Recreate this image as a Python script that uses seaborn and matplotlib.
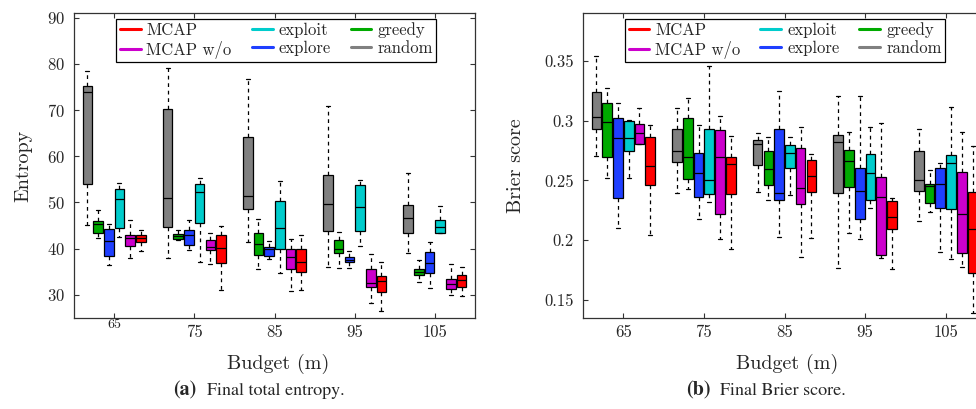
import numpy as np
import pandas as pd
import matplotlib
matplotlib.use("Agg")
import matplotlib.pyplot as plt
import matplotlib.transforms as mtransforms
from matplotlib.lines import Line2D
import seaborn as sns

# Budgets (m) on the x axis
budgets = ["65", "75", "85", "95", "105"]

# Methods in the order the boxes are drawn inside each budget group
methods = ["random", "greedy", "explore", "exploit", "MCAP w/o", "MCAP"]
legend_order = ["MCAP", "MCAP w/o", "exploit", "explore", "greedy", "random"]
colors = {
    "random": "#808080",
    "greedy": "#00aa00",
    "explore": "#1f3fff",
    "exploit": "#00cccc",
    "MCAP w/o": "#cc00cc",
    "MCAP": "#ff0000",
}

# Per-budget box summaries: [min, q1, median, q3, max]
# Final total entropy
ent_random = [[45.1, 54.0, 73.9, 75.3, 78.5], [37.9, 44.8, 51.0, 70.3, 79.0],
              [41.4, 48.6, 51.5, 64.2, 76.7], [36.1, 43.8, 49.7, 56.0, 70.9],
              [39.0, 43.3, 46.6, 49.5, 56.4]]
ent_greedy = [[42.4, 43.4, 45.3, 45.9, 48.3], [41.9, 42.2, 42.7, 43.1, 44.0],
              [35.5, 38.7, 41.1, 43.3, 46.5], [35.9, 39.0, 40.0, 41.8, 43.7],
              [32.7, 34.3, 35.0, 35.5, 37.5]]
ent_explore = [[36.55, 38.35, 41.7, 44.3, 45.3], [39.7, 40.9, 42.9, 44.0, 46.1],
               [37.8, 38.35, 40.0, 40.4, 41.7], [35.9, 37.1, 37.6, 38.1, 39.6],
               [31.5, 34.8, 36.9, 39.2, 41.4]]
ent_exploit = [[42.6, 44.4, 50.8, 53.0, 54.2], [37.1, 45.5, 52.2, 54.0, 55.3],
               [34.8, 39.9, 44.5, 50.4, 54.6], [40.6, 43.75, 49.1, 53.7, 54.9],
               [43.5, 43.5, 44.8, 46.3, 49.3]]
ent_mcap_wo = [[37.9, 40.5, 42.3, 43.0, 46.2], [36.7, 39.7, 40.4, 41.8, 43.5],
               [30.9, 35.5, 38.2, 39.9, 42.0], [28.3, 31.7, 32.6, 35.5, 38.9],
               [30.0, 31.2, 32.4, 33.5, 36.6]]
ent_mcap = [[39.4, 41.4, 42.3, 43.0, 44.0], [31.0, 36.8, 40.2, 42.9, 45.0],
            [31.1, 34.9, 37.1, 39.9, 43.0], [26.6, 30.7, 33.0, 34.0, 37.2],
            [29.7, 31.8, 33.2, 34.2, 36.0]]

# Final Brier score
bri_random = [[0.2705, 0.2929, 0.3032, 0.3238, 0.3537], [0.2398, 0.2652, 0.2744, 0.2934, 0.3104],
              [0.2401, 0.2627, 0.2806, 0.2839, 0.2900], [0.1765, 0.2393, 0.2820, 0.2881, 0.3210],
              [0.2158, 0.2410, 0.2502, 0.2744, 0.2931]]
bri_greedy = [[0.2518, 0.2694, 0.2987, 0.3146, 0.3269], [0.2432, 0.2510, 0.2697, 0.3020, 0.3191],
              [0.2337, 0.2460, 0.2594, 0.2744, 0.2862], [0.2064, 0.2449, 0.2666, 0.2758, 0.2906],
              [0.2237, 0.2315, 0.2457, 0.2468, 0.2588]]
bri_explore = [[0.2100, 0.2351, 0.2856, 0.3026, 0.3146], [0.2178, 0.2359, 0.2560, 0.2728, 0.2962],
               [0.2027, 0.2334, 0.2396, 0.2926, 0.3250], [0.2008, 0.2175, 0.2415, 0.2608, 0.3210],
               [0.1899, 0.2267, 0.2471, 0.2602, 0.2644]]
bri_exploit = [[0.2524, 0.2750, 0.2856, 0.2998, 0.3007], [0.2323, 0.2387, 0.2502, 0.2934, 0.3461],
               [0.2376, 0.2608, 0.2728, 0.2795, 0.2862], [0.2267, 0.2334, 0.2566, 0.2722, 0.2948],
               [0.1846, 0.2259, 0.2644, 0.2714, 0.3118]]
bri_mcap_wo = [[0.2806, 0.2806, 0.2895, 0.2968, 0.3104], [0.2013, 0.2223, 0.2697, 0.2923, 0.3040],
               [0.1857, 0.2301, 0.2435, 0.2770, 0.2951], [0.1849, 0.1877, 0.2365, 0.2530, 0.2981],
               [0.1779, 0.1896, 0.2217, 0.2574, 0.2903]]
bri_mcap = [[0.2041, 0.2460, 0.2619, 0.2864, 0.2962], [0.1927, 0.2384, 0.2635, 0.2697, 0.2875],
            [0.2019, 0.2407, 0.2538, 0.2675, 0.2719], [0.1762, 0.2094, 0.2192, 0.2331, 0.2357],
            [0.1390, 0.1723, 0.2094, 0.2404, 0.2789]]

entropy = {"random": ent_random, "greedy": ent_greedy, "explore": ent_explore,
           "exploit": ent_exploit, "MCAP w/o": ent_mcap_wo, "MCAP": ent_mcap}
brier = {"random": bri_random, "greedy": bri_greedy, "explore": bri_explore,
         "exploit": bri_exploit, "MCAP w/o": bri_mcap_wo, "MCAP": bri_mcap}


def to_long(table):
    rows = []
    for m in methods:
        for b, stats in zip(budgets, table[m]):
            for v in stats:
                rows.append({"budget": b, "method": m, "value": v})
    return pd.DataFrame(rows)


sns.set_style("ticks")
plt.rcParams["font.family"] = ["cmr10"]
plt.rcParams["mathtext.fontset"] = "cm"
plt.rcParams["axes.formatter.use_mathtext"] = True
plt.rcParams["axes.unicode_minus"] = False

fig = plt.figure(figsize=(9.76, 4.09), dpi=100)
ax1 = fig.add_axes([74 / 976, 1 - 318 / 409, 401 / 976, 305 / 409])
ax2 = fig.add_axes([583 / 976, 1 - 318 / 409, 403 / 976, 305 / 409])

box_kw = dict(
    x="budget", y="value", hue="method", order=budgets, hue_order=methods,
    palette=colors, saturation=1, width=0.8, gap=0.1, whis=(0, 100),
    linecolor="black", linewidth=0.9, fliersize=0, legend=False,
    whiskerprops=dict(linestyle=(0, (3, 3)), linewidth=0.9),
    capprops=dict(linewidth=0.9), capwidths=0.05,
)
sns.boxplot(data=to_long(entropy), ax=ax1, **box_kw)
sns.boxplot(data=to_long(brier), ax=ax2, **box_kw)

spine_color = "#333333"
for ax in (ax1, ax2):
    ax.set_xlim(-0.5, 4.5)
    ax.set_xlabel("Budget (m)", fontsize=14.5)
    ax.tick_params(direction="in", top=True, right=True, length=3.5,
                   width=0.8, color=spine_color, labelsize=12)
    ax.tick_params(axis="x", pad=5)
    ax.tick_params(axis="y", pad=6.5)
    for s in ax.spines.values():
        s.set_color(spine_color)
        s.set_linewidth(0.9)

ax1.set_ylim(25, 91)
ax1.set_yticks([30, 40, 50, 60, 70, 80, 90])
ax1.set_ylabel("Entropy", fontsize=14.5)
ax2.set_ylim(0.135, 0.39)
ax2.set_yticks([0.15, 0.2, 0.25, 0.3, 0.35])
ax2.set_yticklabels(["0.15", "0.2", "0.25", "0.3", "0.35"])
ax2.set_ylabel("Brier score", fontsize=14.5)

ax1.yaxis.set_label_coords(-0.105, 0.5)
ax2.yaxis.set_label_coords(-0.144, 0.5)
ax1.xaxis.set_label_coords(0.509, -0.118)
ax2.xaxis.set_label_coords(0.506, -0.118)

handles = [Line2D([], [], color=colors[m], lw=2.2) for m in legend_order]
for ax, (xr, top) in ((ax1, (0.903, 0.98)), (ax2, (0.898, 0.98))):
    leg = ax.legend(handles, legend_order, ncol=3, loc="upper right",
                    bbox_to_anchor=(xr, top), borderaxespad=0, fontsize=12,
                    frameon=True, fancybox=False, framealpha=1,
                    edgecolor="black", handlelength=1.25, handletextpad=0.35,
                    columnspacing=1.2, labelspacing=0.15, borderpad=0.2)
    leg.get_frame().set_linewidth(0.9)

# First budget label on the entropy panel is set smaller and raised
lab = ax1.xaxis.get_major_ticks()[0].label1
lab.set_fontsize(10)
lab.set_transform(lab.get_transform() +
                  mtransforms.ScaledTranslation(0, 4 / 72, fig.dpi_scale_trans))

# Sub-figure captions
cap_kw = dict(family="STIXGeneral", va="baseline")
yb = 1 - 395 / 409
fig.text(172.7 / 976, yb, "(a)", weight="bold", fontsize=14.5, **cap_kw)
fig.text(207 / 976, yb, "Final total entropy.", fontsize=13, **cap_kw)
fig.text(686 / 976, yb, "(b)", weight="bold", fontsize=14.5, **cap_kw)
fig.text(720 / 976, yb, "Final Brier score.", fontsize=13, **cap_kw)

fig.savefig("out.png", dpi=100)
